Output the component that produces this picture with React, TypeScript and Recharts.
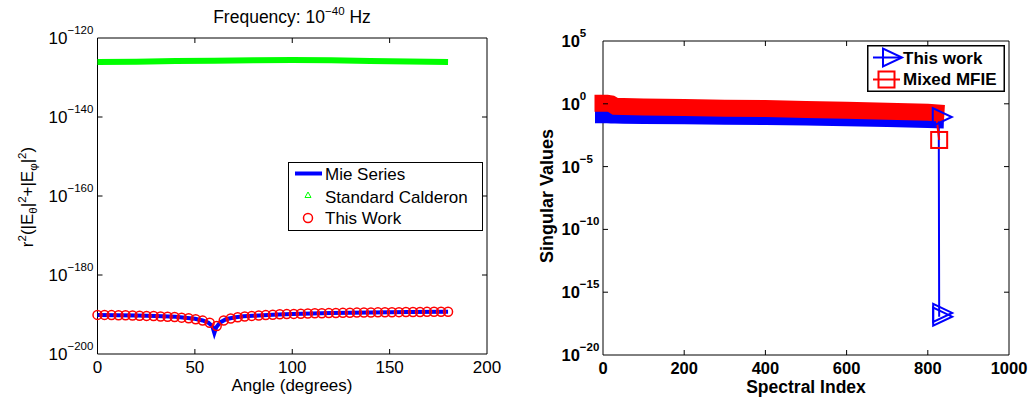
import React from 'react';
import { LineChart, Line, XAxis, YAxis, ReferenceArea, Legend } from 'recharts';

const FONT = '"Liberation Sans", Arial, Helvetica, sans-serif';

// ---------- Left panel (far field vs angle) ----------
const angleTicks = [0, 50, 100, 150, 200];
const fieldExpTicks = [-200, -180, -160, -140, -120];

const workAngles = [0, 3.6, 7.2, 10.8, 14.4, 18, 21.6, 25.2, 28.8, 32.4, 36, 39.6, 43.2, 46.8, 50.4, 54, 57.6, 61.2, 64.8, 68.4, 72, 75.6, 79.2, 82.8, 86.4, 90, 93.6, 97.2, 100.8, 104.4, 108, 111.6, 115.2, 118.8, 122.4, 126, 129.6, 133.2, 136.8, 140.4, 144, 147.6, 151.2, 154.8, 158.4, 162, 165.6, 169.2, 172.8, 176.4, 180];
const workExp = [-190.1, -190.1, -190.15, -190.2, -190.2, -190.25, -190.3, -190.35, -190.4, -190.5, -190.55, -190.65, -190.8, -190.95, -191.2, -191.55, -192.1, -192.9, -191.5, -191.0, -190.7, -190.5, -190.35, -190.25, -190.15, -190.05, -189.95, -189.9, -189.85, -189.8, -189.75, -189.7, -189.68, -189.65, -189.6, -189.58, -189.55, -189.52, -189.5, -189.48, -189.46, -189.44, -189.42, -189.4, -189.38, -189.36, -189.35, -189.33, -189.32, -189.3, -189.3];

const mieAngles = [0, 10, 20, 30, 40, 45, 50, 54, 57, 59, 60, 61, 63, 66, 70, 75, 80, 90, 100, 110, 120, 140, 160, 180];
const mieExp = [-190.1, -190.2, -190.25, -190.4, -190.6, -190.8, -191.1, -191.5, -192.1, -193.0, -194.7, -193.2, -192.0, -191.2, -190.75, -190.45, -190.3, -190.05, -189.85, -189.72, -189.62, -189.48, -189.38, -189.3];

const calderonAngles = [0, 20, 40, 60, 80, 100, 120, 140, 160, 180];
const calderonExp = [-126.1, -126.0, -125.85, -125.75, -125.65, -125.6, -125.65, -125.8, -125.95, -126.1];

// ---------- Right panel (singular values) ----------
const indexTicks = [0, 200, 400, 600, 800, 1000];
const svExpTicks = [-20, -15, -10, -5, 0, 5];

const bandIdx = [0, 10, 20, 30, 50, 100, 200, 300, 400, 500, 600, 700, 800, 820];
const thisWorkBandExp = [-0.92, -0.92, -0.93, -0.94, -0.95, -0.97, -1.0, -1.03, -1.06, -1.1, -1.15, -1.21, -1.3, -1.32];
const mfieBandExp = [0.05, 0.05, 0.0, -0.2, -0.22, -0.25, -0.3, -0.35, -0.38, -0.45, -0.52, -0.6, -0.68, -0.72];

const thisWorkTailIdx = [820, 827, 828, 828];
const thisWorkTailExp = [-1.32, -1.05, -16.65, -16.95];
const mfieTailIdx = [820, 828];
const mfieTailExp = [-0.72, -2.88];

// ---------- helpers ----------
const pow10 = (e: number) => Math.pow(10, e);
const build = (xs: number[], es: number[]) => xs.map((x, i) => ({ x, v: pow10(es[i]) }));

const workData = build(workAngles, workExp);
const mieData = build(mieAngles, mieExp);
const calderonData = build(calderonAngles, calderonExp);
const leftYTicks = fieldExpTicks.map(pow10);

const thisWorkBand = build(bandIdx, thisWorkBandExp);
const mfieBand = build(bandIdx, mfieBandExp);
const thisWorkTail = build(thisWorkTailIdx, thisWorkTailExp);
const mfieTail = build(mfieTailIdx, mfieTailExp);
const rightYTicks = svExpTicks.map(pow10);

const fmtExp = (e: number) => (e < 0 ? '\u2212' + String(-e) : String(e));

type Box = { left: number; right: number; top: number; bottom: number };
type TStyle = { size: number; sup: number; weight: string | number; yStart: number; xBase: number; supDy: number };

const LBOX: Box = { left: 97.5, right: 487, top: 38, bottom: 354 };
const RBOX: Box = { left: 83, right: 489, top: 41, bottom: 355 };

const LSTYLE: TStyle = { size: 17, sup: 11.5, weight: 'normal', yStart: 48.5, xBase: 373, supDy: -10 };
const RSTYLE: TStyle = { size: 16.5, sup: 11.5, weight: 'bold', yStart: 41.5, xBase: 374, supDy: -10 };

const makeLogYTick = (box: Box, st: TStyle) => (props: any) => {
  const { y, payload } = props;
  const e = Math.round(Math.log10(payload.value));
  const inner = Math.abs(y - box.top) > 1 && Math.abs(y - box.bottom) > 1;
  return (
    <g>
      {inner && <line x1={box.left} x2={box.left + 5} y1={y} y2={y} stroke="#000" strokeWidth={1} />}
      {inner && <line x1={box.right - 5} x2={box.right} y1={y} y2={y} stroke="#000" strokeWidth={1} />}
      <text x={st.yStart} y={y + 6} textAnchor="start" fontFamily={FONT} fontSize={st.size} fontWeight={st.weight} fill="#000">
        10
        <tspan dy={st.supDy} fontSize={st.sup}>{fmtExp(e)}</tspan>
      </text>
    </g>
  );
};

const makeXTick = (box: Box, st: TStyle) => (props: any) => {
  const { x, payload } = props;
  const inner = Math.abs(x - box.left) > 1 && Math.abs(x - box.right) > 1;
  return (
    <g>
      {inner && <line x1={x} x2={x} y1={box.bottom} y2={box.bottom - 5} stroke="#000" strokeWidth={1} />}
      {inner && <line x1={x} x2={x} y1={box.top} y2={box.top + 5} stroke="#000" strokeWidth={1} />}
      <text x={x} y={st.xBase} textAnchor="middle" fontFamily={FONT} fontSize={st.size} fontWeight={st.weight} fill="#000">
        {payload.value}
      </text>
    </g>
  );
};

const LeftLegend = () => (
  <svg width={196} height={70} style={{ display: 'block', overflow: 'visible' }}>
    <rect x={0.5} y={0.5} width={194} height={68} fill="#fff" stroke="#000" strokeWidth={1} />
    <line x1={7} x2={34} y1={11.5} y2={11.5} stroke="#0000ff" strokeWidth={4} />
    <text x={37} y={17.5} fontFamily={FONT} fontSize={17} fill="#000">Mie Series</text>
    <polygon points="20,30 17,35.5 23,35.5" fill="none" stroke="#00ff00" strokeWidth={1} />
    <text x={37} y={40.5} fontFamily={FONT} fontSize={17} fill="#000">Standard Calderon</text>
    <circle cx={20} cy={56} r={4.5} fill="none" stroke="#ff0000" strokeWidth={1.5} />
    <text x={37} y={62} fontFamily={FONT} fontSize={17} fill="#000">This Work</text>
  </svg>
);

const triPoints = (cx: number, cy: number) =>
  `${cx - 6},${cy - 9} ${cx - 6},${cy + 9} ${cx + 13},${cy}`;

const RightLegend = () => (
  <svg width={138} height={47} style={{ display: 'block', overflow: 'visible' }}>
    <rect x={0.75} y={0.75} width={136.5} height={45.5} fill="#fff" stroke="#000" strokeWidth={1.5} />
    <line x1={6} x2={33} y1={12.5} y2={12.5} stroke="#0000ff" strokeWidth={2} />
    <polygon points={triPoints(22, 12.5)} fill="none" stroke="#0000ff" strokeWidth={2} />
    <text x={36} y={19} fontFamily={FONT} fontSize={17} fontWeight="bold" fill="#000">This work</text>
    <line x1={6} x2={33} y1={34.5} y2={34.5} stroke="#ff0000" strokeWidth={2} />
    <rect x={11.5} y={26.5} width={16} height={16} fill="none" stroke="#ff0000" strokeWidth={2} />
    <text x={36} y={40} fontFamily={FONT} fontSize={17} fontWeight="bold" fill="#000">Mixed MFIE</text>
  </svg>
);

const blueTailDot = (props: any) => {
  const { cx, cy, index } = props;
  if (index === 0 || cx == null || cy == null) return <g key={`bt-${index}`} />;
  return <polygon key={`bt-${index}`} points={triPoints(cx, cy)} fill="none" stroke="#0000ff" strokeWidth={2} />;
};

const redTailDot = (props: any) => {
  const { cx, cy, index } = props;
  if (index === 0 || cx == null || cy == null) return <g key={`rt-${index}`} />;
  return <rect key={`rt-${index}`} x={cx - 8} y={cy - 8} width={16} height={16} fill="none" stroke="#ff0000" strokeWidth={2} />;
};

const LeftYLabel = () => (
  <g transform="translate(33,197) rotate(-90)">
    <text x={0} y={0} textAnchor="middle" fontFamily={FONT} fontSize={17} fill="#000">
      r<tspan dy={-7} fontSize={11.5}>2</tspan>
      <tspan dy={7}>(|E</tspan>
      <tspan dy={4} fontSize={11.5}>θ</tspan>
      <tspan dy={-4}>|</tspan>
      <tspan dy={-7} fontSize={11.5}>2</tspan>
      <tspan dy={7}>+|E</tspan>
      <tspan dy={4} fontSize={11.5}>φ</tspan>
      <tspan dy={-4}>|</tspan>
      <tspan dy={-7} fontSize={11.5}>2</tspan>
      <tspan dy={7}>)</tspan>
    </text>
  </g>
);

const LeftXLabel = () => (
  <text x={292} y={391} textAnchor="middle" fontFamily={FONT} fontSize={17} fill="#000">Angle (degrees)</text>
);

const RightXLabel = () => (
  <text x={286} y={392.5} textAnchor="middle" fontFamily={FONT} fontSize={17.5} fontWeight="bold" fill="#000">Spectral Index</text>
);

const RightYLabel = () => (
  <g transform="translate(33,196) rotate(-90)">
    <text x={0} y={0} textAnchor="middle" fontFamily={FONT} fontSize={18} fontWeight="bold" fill="#000">Singular Values</text>
  </g>
);

export default function App() {
  return (
    <div style={{ position: 'absolute', left: 0, top: 0, width: 1032, height: 398, background: '#fff', fontFamily: FONT }}>
      <div style={{ position: 'absolute', left: 0, top: 0 }}>
        <LineChart width={520} height={398} margin={{ top: 38, right: 33, bottom: 14, left: 37.5 }}>
          <XAxis
            dataKey="x"
            type="number"
            domain={[0, 200]}
            ticks={angleTicks}
            interval={0}
            tickSize={0}
            tickLine={false}
            axisLine={false}
            height={30}
            tick={makeXTick(LBOX, LSTYLE)}
            label={<LeftXLabel />}
          />
          <YAxis
            dataKey="v"
            type="number"
            scale="log"
            domain={[1e-200, 1e-120]}
            ticks={leftYTicks}
            interval={0}
            tickSize={0}
            tickLine={false}
            axisLine={false}
            width={60}
            tick={makeLogYTick(LBOX, LSTYLE)}
            label={<LeftYLabel />}
          />
          <Line data={calderonData} dataKey="v" stroke="#00ff00" strokeWidth={6} strokeLinecap="butt" dot={false} isAnimationActive={false} />
          <Line data={mieData} dataKey="v" stroke="#0000ff" strokeWidth={4} dot={false} isAnimationActive={false} />
          <Line data={workData} dataKey="v" stroke="none" dot={{ r: 4.5, fill: 'none', stroke: '#ff0000', strokeWidth: 1.5 }} isAnimationActive={false} />
          <ReferenceArea x1={0} x2={200} y1={1e-200} y2={1e-120} fill="none" stroke="#000" strokeWidth={1} ifOverflow="visible" />
          <Legend
            layout="vertical"
            align="center"
            verticalAlign="middle"
            content={() => <LeftLegend />}
            wrapperStyle={{ left: 288, top: 162, width: 196, height: 70 }}
          />
          <text x={292} y={23} textAnchor="middle" fontFamily={FONT} fontSize={17.5} fill="#000">
            Frequency: 10<tspan dy={-8} fontSize={11.5}>{'\u2212'}40</tspan>
            <tspan dy={8}> Hz</tspan>
          </text>
        </LineChart>
      </div>
      <div style={{ position: 'absolute', left: 520, top: 0 }}>
        <LineChart width={512} height={398} margin={{ top: 41, right: 23, bottom: 13, left: 23 }}>
          <XAxis
            dataKey="x"
            type="number"
            domain={[0, 1000]}
            ticks={indexTicks}
            interval={0}
            tickSize={0}
            tickLine={false}
            axisLine={false}
            height={30}
            tick={makeXTick(RBOX, RSTYLE)}
            label={<RightXLabel />}
          />
          <YAxis
            dataKey="v"
            type="number"
            scale="log"
            domain={[1e-20, 1e5]}
            ticks={rightYTicks}
            interval={0}
            tickSize={0}
            tickLine={false}
            axisLine={false}
            width={60}
            tick={makeLogYTick(RBOX, RSTYLE)}
            label={<RightYLabel />}
          />
          <Line data={thisWorkBand} dataKey="v" stroke="#0000ff" strokeWidth={16} strokeLinecap="square" dot={false} isAnimationActive={false} />
          <Line data={thisWorkTail} dataKey="v" stroke="#0000ff" strokeWidth={2} dot={blueTailDot} isAnimationActive={false} />
          <Line data={mfieBand} dataKey="v" stroke="#ff0000" strokeWidth={17} strokeLinecap="square" dot={false} isAnimationActive={false} />
          <Line data={mfieTail} dataKey="v" stroke="#ff0000" strokeWidth={2} dot={redTailDot} isAnimationActive={false} />
          <ReferenceArea x1={0} x2={1000} y1={1e-20} y2={1e5} fill="none" stroke="#000" strokeWidth={1} ifOverflow="visible" />
          <Legend
            layout="vertical"
            align="center"
            verticalAlign="middle"
            content={() => <RightLegend />}
            wrapperStyle={{ left: 347, top: 45, width: 138, height: 47 }}
          />
        </LineChart>
      </div>
    </div>
  );
}
